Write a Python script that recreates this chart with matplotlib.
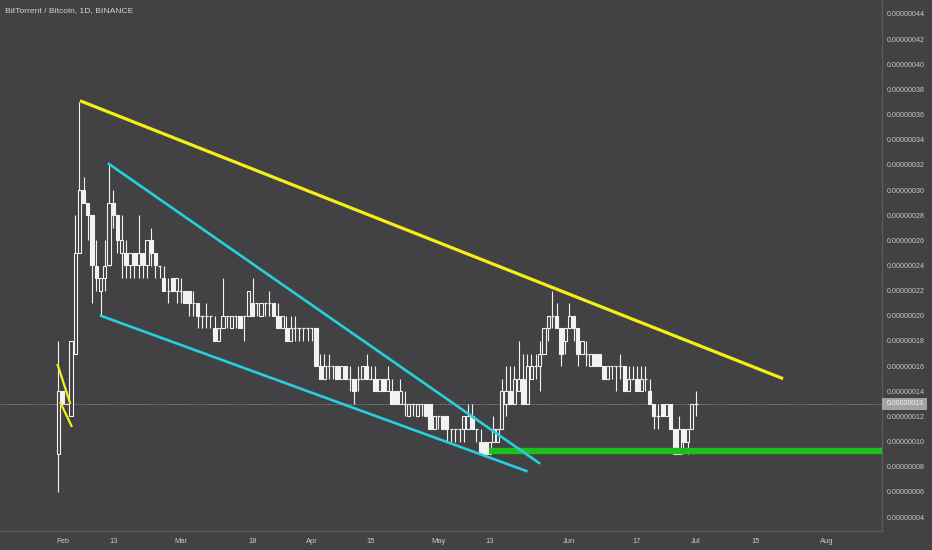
import matplotlib
matplotlib.use('Agg')
import matplotlib.pyplot as plt
from matplotlib.patches import Rectangle
import pandas as pd

# ---------------- data (prices in satoshi = 1e-8 BTC) ----------------
start_date = '2019-01-31'
opens = [9, 14, 13, 12, 17, 25, 30, 29, 28, 24, 22, 23, 24, 29, 28, 25, 25, 24, 25, 24,
         25, 24, 26, 25, 24, 23, 22, 23, 22, 22, 22, 22, 21, 21, 20, 20, 20, 19, 18, 19,
         20, 19, 20, 20, 20, 20, 21, 21, 20, 21, 21, 21, 20, 19, 19, 18, 19, 19, 19, 19,
         19, 19, 16, 15, 16, 16, 16, 15, 16, 15, 15, 15, 15, 16, 15, 15, 14, 15, 14, 14,
         14, 13, 13, 12, 13, 12, 13, 13, 13, 11, 12, 12, 12, 11, 11, 11, 11, 11, 12, 11,
         10, 10, 9, 10, 10, 11, 13, 14, 13, 14, 15, 13, 15, 16, 16, 17, 19, 20, 20, 19,
         18, 19, 20, 19, 17, 17, 16, 17, 17, 16, 15, 16, 16, 16, 16, 14, 15, 15, 14, 15,
         14, 13, 12, 13, 12, 13, 11, 9, 11, 10, 11, 13]
highs = [18, 14, 13, 18, 28, 37, 31, 29, 28, 26, 23, 26, 32, 30, 28, 28, 26, 25, 25, 28,
         25, 26, 27, 25, 24, 24, 23, 23, 23, 23, 22, 22, 22, 21, 20, 21, 20, 20, 19, 23,
         20, 20, 20, 20, 20, 22, 23, 21, 21, 21, 22, 21, 21, 20, 20, 20, 20, 19, 19, 19,
         19, 19, 17, 17, 17, 16, 16, 16, 16, 16, 15, 16, 16, 17, 16, 16, 15, 15, 16, 15,
         14, 15, 14, 13, 13, 13, 13, 13, 13, 12, 12, 12, 12, 11, 11, 11, 12, 13, 13, 11,
         11, 10, 10, 12, 11, 15, 16, 16, 16, 18, 17, 17, 17, 17, 18, 19, 20, 22, 21, 19,
         19, 21, 20, 19, 18, 18, 17, 17, 17, 16, 16, 16, 16, 17, 16, 16, 16, 16, 16, 16,
         15, 13, 13, 13, 13, 13, 11, 12, 11, 11, 13, 14]
lows = [6, 13, 13, 12, 17, 25, 29, 26, 21, 22, 20, 22, 24, 27, 25, 23, 23, 23, 23, 23,
        23, 23, 24, 23, 23, 22, 21, 22, 21, 21, 21, 20, 20, 19, 19, 19, 19, 18, 18, 19,
        19, 19, 19, 19, 18, 20, 20, 20, 20, 20, 20, 20, 19, 19, 18, 18, 18, 18, 18, 18,
        18, 16, 15, 15, 15, 15, 15, 15, 15, 14, 13, 14, 15, 15, 15, 14, 14, 14, 14, 13,
        13, 13, 12, 12, 12, 12, 12, 12, 11, 11, 11, 11, 10, 10, 10, 10, 10, 11, 11, 10,
        9, 9, 9, 10, 10, 11, 12, 13, 13, 14, 13, 13, 15, 15, 14, 17, 18, 19, 19, 16,
        17, 19, 18, 16, 17, 16, 16, 16, 16, 15, 15, 15, 14, 15, 14, 14, 15, 14, 14, 14,
        13, 11, 11, 12, 12, 11, 9, 9, 9, 9, 11, 12]
closes = [14, 13, 13, 18, 25, 30, 29, 28, 24, 23, 23, 24, 29, 28, 26, 26, 24, 25, 24, 25,
          24, 26, 25, 24, 24, 22, 22, 22, 23, 22, 21, 21, 21, 20, 20, 20, 20, 18, 19, 20,
          20, 20, 20, 19, 20, 22, 20, 21, 21, 21, 21, 20, 19, 20, 18, 19, 19, 19, 19, 19,
          19, 16, 15, 16, 16, 16, 15, 16, 15, 15, 14, 15, 16, 15, 15, 14, 15, 14, 15, 13,
          13, 14, 13, 13, 13, 13, 13, 12, 11, 12, 12, 11, 11, 11, 11, 11, 12, 12, 11, 11,
          9, 9, 10, 11, 11, 14, 14, 13, 15, 15, 13, 16, 16, 16, 17, 19, 20, 20, 19, 17,
          19, 20, 19, 17, 18, 17, 17, 16, 16, 15, 16, 16, 16, 16, 14, 15, 15, 14, 15, 15,
          13, 12, 12, 12, 13, 11, 9, 11, 10, 11, 13, 13]

price_ticks = [4, 6, 8, 10, 12, 14, 16, 18, 20, 22, 24, 26, 28, 30, 32, 34, 36, 38, 40, 42, 44]
last_price = 13

tick_dates = ['2019-02-01', '2019-02-13', '2019-03-01', '2019-03-18', '2019-04-01',
              '2019-04-15', '2019-05-01', '2019-05-13', '2019-06-01', '2019-06-17',
              '2019-07-01', '2019-07-15', '2019-08-01']
tick_labels = ['Feb', '13', 'Mar', '18', 'Apr', '15', 'May', '13', 'Jun', '17', 'Jul', '15', 'Aug']

# drawn trend lines: (days from Feb 1, price)
yellow_main_x = [4.14, 170.6]
yellow_main_y = [37.1, 15.0]
yellow_small1_x = [-1.14, 1.78]
yellow_small1_y = [16.09, 13.07]
yellow_small2_x = [-0.47, 2.13]
yellow_small2_y = [13.07, 11.24]
cyan_upper_x = [11.0, 112.8]
cyan_upper_y = [32.07, 8.3]
cyan_lower_x = [9.1, 109.8]
cyan_lower_y = [20.0, 7.66]
green_level = 9.25
green_start = 101.0

# ---------------- styling ----------------
BG = '#424244'
TXT = '#c9c9c9'
CANDLE = '#f2f2f2'
SEP = '#5c5c5e'
FONT = ['Liberation Sans', 'DejaVu Sans']

plt.rcParams['font.family'] = FONT

fig = plt.figure(figsize=(9.32, 5.5), dpi=100, facecolor=BG)
ax = fig.add_axes([0, 19 / 550, 881.7 / 932, 531 / 550], facecolor=BG)

base = pd.Timestamp('2019-02-01')
dates = pd.date_range(start_date, periods=len(opens), freq='D')
xs = [(d - base).days for d in dates]

bw = 0.76
for x, o, h, l, c in zip(xs, opens, highs, lows, closes):
    ax.vlines(x, l, h, color=CANDLE, lw=0.8, zorder=2)
    if c > o:
        ax.add_patch(Rectangle((x - bw / 2, o), bw, c - o, facecolor=BG,
                               edgecolor=CANDLE, lw=0.8, zorder=3))
    elif c < o:
        ax.add_patch(Rectangle((x - bw / 2, c), bw, o - c, facecolor=CANDLE,
                               edgecolor=CANDLE, lw=0.8, zorder=3))
    else:
        ax.hlines(o, x - bw / 2, x + bw / 2, color=CANDLE, lw=0.9, zorder=3)

# current price dotted line
ax.axhline(last_price, color='#9a9a9a', lw=0.6, ls=(0, (1.5, 1.5)), zorder=1)

# trend lines
ax.plot(yellow_main_x, yellow_main_y, color='#f4ef17', lw=2.3, solid_capstyle='butt', zorder=5)
ax.plot(yellow_small1_x, yellow_small1_y, color='#f4ef17', lw=1.6, zorder=5)
ax.plot(yellow_small2_x, yellow_small2_y, color='#f4ef17', lw=1.6, zorder=5)
ax.plot(cyan_upper_x, cyan_upper_y, color='#26d0dc', lw=1.9, zorder=5)
ax.plot(cyan_lower_x, cyan_lower_y, color='#26d0dc', lw=1.9, zorder=5)
ax.plot([green_start, 200], [green_level, green_level], color='#1fbe1f', lw=4.6,
        solid_capstyle='butt', zorder=4)

ax.set_xlim(-14.80, 193.94)
ax.set_ylim(2.887, 45.113)

# axes cosmetics
for s in ['top', 'left']:
    ax.spines[s].set_visible(False)
for s in ['right', 'bottom']:
    ax.spines[s].set_color(SEP)
    ax.spines[s].set_linewidth(0.9)

ax.yaxis.tick_right()
ax.set_yticks(price_ticks)
ax.set_yticklabels(['%.8f' % (v * 1e-8) for v in price_ticks])
ax.set_xticks([(pd.Timestamp(d) - base).days for d in tick_dates])
ax.set_xticklabels(tick_labels)
ax.tick_params(axis='y', length=0, pad=3.9, labelsize=5.1, colors=TXT)
ax.tick_params(axis='x', length=0, pad=5.0, labelsize=5.4, colors=TXT)

# last price label box
fig.patches.append(Rectangle((881.7 / 932, 1 - 409.5 / 550), 45.5 / 932, 11.2 / 550,
                             transform=fig.transFigure, facecolor='#a2a2a4',
                             edgecolor='none', zorder=10))
fig.text(886.8 / 932, 1 - 403.9 / 550, '%.8f' % (last_price * 1e-8), color='#f4f4f4',
         fontsize=5.0, va='center', ha='left', zorder=11)

fig.text(5 / 932, 1 - 11 / 550, 'BitTorrent / Bitcoin, 1D, BINANCE', color='#d4d4d4',
         fontsize=6.1, va='center', ha='left')

fig.savefig('out.png', dpi=100, facecolor=BG)
